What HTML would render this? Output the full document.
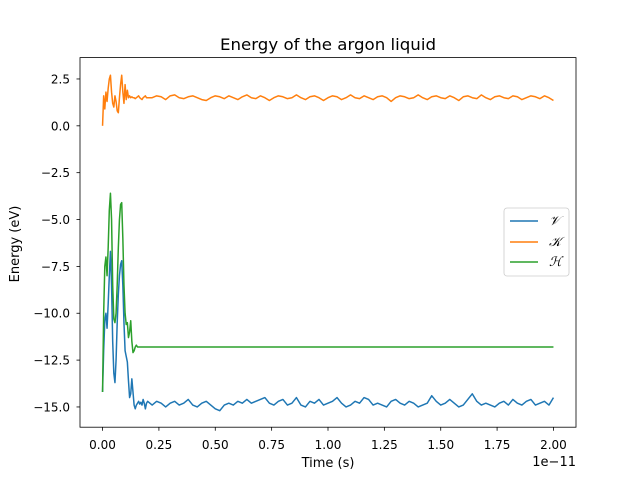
<!DOCTYPE html>
<html><head><meta charset="utf-8"><style>
body{margin:0;background:#fff}
svg{font-family:"DejaVu Sans","Liberation Sans",sans-serif}
</style></head><body>
<svg id="chart" width="640" height="480" viewBox="0 0 640 480">
<rect width="640" height="480" fill="#fff"/>
<text x="328" y="50" text-anchor="middle" font-size="16" textLength="216" lengthAdjust="spacingAndGlyphs">Energy of the argon liquid</text>
<text x="328" y="467" text-anchor="middle" font-size="13">Time (s)</text>
<text x="576" y="466" text-anchor="end" font-size="13">1e−11</text>
<text transform="translate(19,244) rotate(-90)" text-anchor="middle" font-size="13">Energy (eV)</text>
<g id="ticks"></g>
<g id="lines"></g>
<rect x="80" y="57.6" width="496" height="369.6" fill="none" stroke="#000" stroke-width="0.8"/>
<g>
<rect x="504" y="208" width="65" height="68" rx="3" fill="#fff" fill-opacity="0.8" stroke="#ccc" stroke-width="0.8"/>
<g><line x1="510" y1="221" x2="538" y2="221" stroke="#1f77b4" stroke-width="1.5"/><text x="549" y="225" font-size="13" font-style="italic" font-family="'Liberation Serif',serif">𝒱</text></g>
<g><line x1="510" y1="242" x2="538" y2="242" stroke="#ff7f0e" stroke-width="1.5"/><text x="549" y="246" font-size="13" font-style="italic" font-family="'Liberation Serif',serif">𝒦</text></g>
<g><line x1="510" y1="262" x2="538" y2="262" stroke="#2ca02c" stroke-width="1.5"/><text x="549" y="266" font-size="13" font-style="italic" font-family="'Liberation Serif',serif">ℋ</text></g>
</g>
</svg>
<script>
const xTicks=[0,0.25,0.5,0.75,1.0,1.25,1.5,1.75,2.0];
const xTickLabels=["0.00","0.25","0.50","0.75","1.00","1.25","1.50","1.75","2.00"];
const yTicks=[2.5,0,-2.5,-5,-7.5,-10,-12.5,-15];
const yTickLabels=["2.5","0.0","−2.5","−5.0","−7.5","−10.0","−12.5","−15.0"];
const tEarly=[0,0.005,0.01,0.015,0.02,0.025,0.03,0.035,0.04,0.045,0.05,0.055,0.06,0.065,0.07,0.075,0.08,0.085,0.09,0.095,0.1,0.105,0.11,0.115,0.12,0.125,0.13,0.135,0.14,0.145,0.15,0.155,0.16,0.165,0.17,0.175,0.18,0.185,0.19,0.195,0.2];
const vEarly=[-14.2,-12.0,-10.4,-10.0,-10.8,-9.5,-8.0,-6.7,-8.5,-11.5,-13.2,-13.7,-12.5,-10.5,-9.0,-8.0,-7.4,-7.2,-8.5,-10.5,-12.0,-12.3,-12.6,-13.6,-14.5,-14.3,-13.5,-14.2,-14.9,-15.1,-14.9,-14.8,-14.7,-14.85,-14.75,-14.9,-14.6,-14.8,-15.1,-14.8,-14.7];
const kEarly=[0,1.6,0.9,1.8,1.3,2.0,2.5,2.7,1.8,1.2,1.0,1.6,1.3,0.8,0.7,1.5,2.2,2.7,1.8,1.2,2.2,1.4,1.9,1.5,1.6,1.5,1.55,1.5,1.5,1.45,1.5,1.55,1.6,1.5,1.45,1.4,1.5,1.55,1.6,1.5,1.5];
const hEarly=[-14.2,-10.0,-7.5,-7.0,-8.0,-6.5,-4.5,-3.6,-5.0,-8.5,-10.3,-10.5,-10.0,-8.5,-6.5,-5.0,-4.2,-4.1,-6.0,-8.5,-10.0,-10.6,-10.5,-11.3,-11.0,-10.4,-11.5,-12.1,-12.0,-11.8,-11.7,-11.8,-11.8,-11.8,-11.8,-11.8,-11.8,-11.8,-11.8,-11.8,-11.8];
const tLateStart=0.22, tLateStep=0.02;
const vLate=[-14.9,-14.7,-14.8,-15.0,-14.8,-14.7,-14.9,-14.8,-14.6,-14.9,-15.0,-14.8,-14.7,-14.9,-15.1,-15.2,-14.9,-14.8,-14.9,-14.7,-14.8,-14.6,-14.8,-14.7,-14.6,-14.5,-14.8,-14.9,-14.7,-14.6,-14.9,-14.8,-14.5,-14.9,-15.0,-14.7,-14.8,-14.6,-14.9,-14.8,-14.7,-14.5,-14.8,-15.0,-14.9,-14.7,-14.8,-14.5,-14.6,-14.9,-14.8,-14.9,-15.0,-14.7,-14.6,-14.8,-14.9,-14.7,-14.8,-15.0,-14.9,-14.8,-14.4,-14.7,-14.9,-14.8,-14.6,-14.8,-15.0,-14.9,-14.6,-14.3,-14.7,-14.9,-14.8,-14.9,-15.0,-14.8,-14.7,-14.9,-14.6,-14.8,-14.9,-14.7,-14.6,-14.9,-14.8,-14.7,-14.9,-14.5];
const kLate=[1.5,1.6,1.55,1.4,1.6,1.65,1.5,1.45,1.55,1.6,1.5,1.4,1.35,1.5,1.6,1.55,1.45,1.6,1.5,1.4,1.55,1.65,1.5,1.45,1.6,1.5,1.35,1.5,1.6,1.55,1.45,1.5,1.65,1.5,1.4,1.55,1.6,1.5,1.35,1.5,1.6,1.55,1.4,1.5,1.65,1.5,1.45,1.6,1.5,1.4,1.55,1.6,1.5,1.3,1.5,1.6,1.55,1.45,1.5,1.65,1.5,1.4,1.55,1.6,1.5,1.45,1.6,1.5,1.35,1.55,1.6,1.5,1.45,1.65,1.5,1.4,1.55,1.6,1.5,1.45,1.6,1.55,1.4,1.5,1.6,1.55,1.45,1.6,1.5,1.35];
const hFinal=-11.8;

const NS="http://www.w3.org/2000/svg";
const xMin=-0.1,xMax=2.1,yMin=-16.08,yMax=3.64;
const L=80,R=576,T=57.6,B=427.2;
function sx(v){return L+(v-xMin)/(xMax-xMin)*(R-L);}
function sy(v){return B-(v-yMin)/(yMax-yMin)*(B-T);}
const tg=document.getElementById('ticks');
xTicks.forEach((v,i)=>{
  const l=document.createElementNS(NS,'line');
  l.setAttribute('x1',sx(v));l.setAttribute('x2',sx(v));l.setAttribute('y1',B);l.setAttribute('y2',B+3.5);
  l.setAttribute('stroke','#000');l.setAttribute('stroke-width','0.8');
  
  
  tg.appendChild(l);
  const t=document.createElementNS(NS,'text');
  t.setAttribute('x',sx(v));t.setAttribute('y',B+22);t.setAttribute('text-anchor','middle');t.setAttribute('font-size','12');
  t.textContent=xTickLabels[i];
  
  
  tg.appendChild(t);
});
yTicks.forEach((v,i)=>{
  const l=document.createElementNS(NS,'line');
  l.setAttribute('x1',L-3.5);l.setAttribute('x2',L);l.setAttribute('y1',sy(v));l.setAttribute('y2',sy(v));
  l.setAttribute('stroke','#000');l.setAttribute('stroke-width','0.8');
  
  
  tg.appendChild(l);
  const t=document.createElementNS(NS,'text');
  t.setAttribute('x',L-10);t.setAttribute('y',sy(v)+4.5);t.setAttribute('text-anchor','end');t.setAttribute('font-size','12');
  t.textContent=yTickLabels[i];
  
  
  tg.appendChild(t);
});
function series(early,late){
  const pts=tEarly.map((t,i)=>[t,early[i]]);
  late.forEach((v,i)=>pts.push([tLateStart+i*tLateStep,v]));
  return pts;
}
const lg=document.getElementById('lines');
function draw(pts,color,name){
  const p=document.createElementNS(NS,'polyline');
  p.setAttribute('points',pts.map(q=>sx(q[0]).toFixed(2)+','+sy(q[1]).toFixed(2)).join(' '));
  p.setAttribute('fill','none');p.setAttribute('stroke',color);p.setAttribute('stroke-width','1.5');p.setAttribute('stroke-linejoin','round');
  
  
  lg.appendChild(p);
}
draw(series(vEarly,vLate),'#1f77b4','potential-energy-line');
draw(series(kEarly,kLate),'#ff7f0e','kinetic-energy-line');
const hPts=tEarly.map((t,i)=>[t,hEarly[i]]);hPts.push([2.0,hFinal]);
draw(hPts,'#2ca02c','total-energy-line');
</script>
</body></html>
